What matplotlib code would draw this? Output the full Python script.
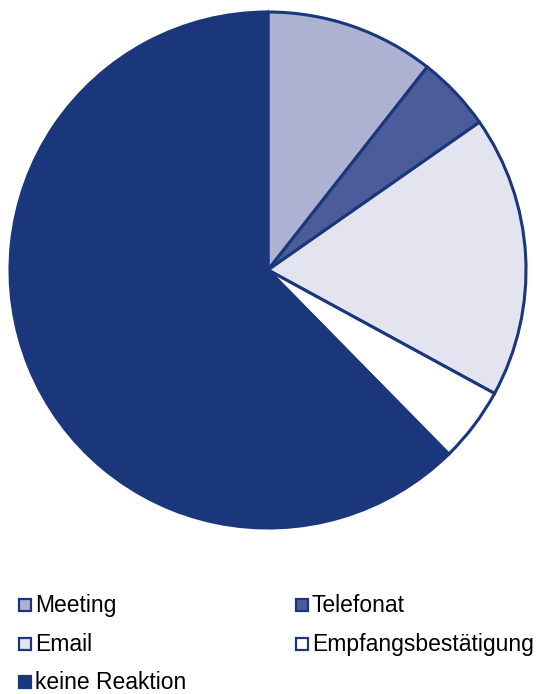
import matplotlib
matplotlib.use("Agg")
import matplotlib.pyplot as plt
from matplotlib.patches import Rectangle

categories = ["Meeting", "Telefonat", "Email", "Empfangsbestätigung", "keine Reaktion"]
values = [9, 4, 15, 4, 53]
colors = ["#adb2d3", "#4b5c9b", "#e3e4ef", "#ffffff", "#1b377b"]
edge = "#1b377b"

W, H = 548, 694
fig = plt.figure(figsize=(W / 100, H / 100), dpi=100)
plt.rcParams["font.family"] = ["Liberation Sans", "DejaVu Sans"]

cx, cy, r = 268, 270, 258
ax = fig.add_axes([(cx - r) / W, (H - cy - r) / H, 2 * r / W, 2 * r / H])
ax.pie(values, colors=colors, startangle=90, counterclock=False,
       wedgeprops=dict(edgecolor=edge, linewidth=2.2, clip_on=False), radius=1)
ax.set_xlim(-1, 1)
ax.set_ylim(-1, 1)
ax.set_aspect("equal")
ax.axis("off")

# legend laid out row-wise in two columns; y is the text baseline
legend_pos = [(19, 612), (296, 612), (19, 651), (296, 651), (19, 689)]
for (x, y), name, c in zip(legend_pos, categories, colors):
    s = 12
    fig.add_artist(Rectangle((x / W, (H - y + 1) / H), s / W, s / H,
                             transform=fig.transFigure, facecolor=c,
                             edgecolor=edge, linewidth=1.6))
    fig.text((x + s + 4) / W, (H - y) / H, name, fontsize=16.5,
             va="baseline", ha="left", color="#000000")

fig.savefig("out.png", dpi=100)
